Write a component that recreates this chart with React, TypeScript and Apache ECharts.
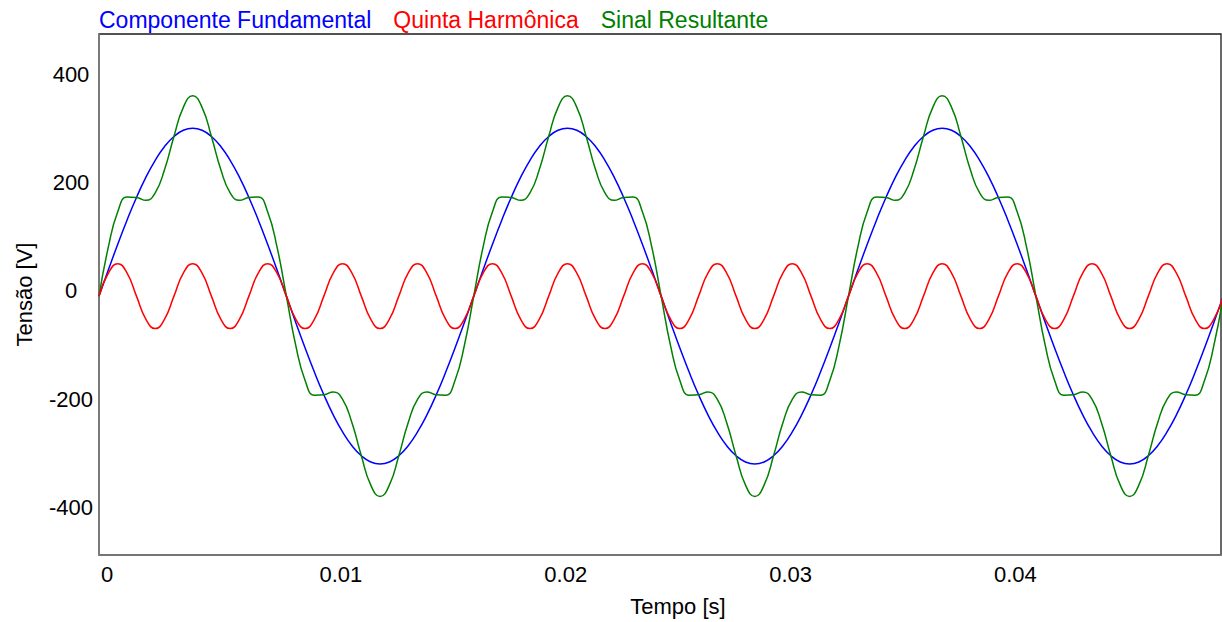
import React, { useEffect, useRef } from "react";
import * as echarts from "echarts";

// Sampling step of the recorded signal (s)
const SAMPLE_STEP = 1 / 2400;

// Legend / series names
const NAMES = ["Componente Fundamental", "Quinta Harmônica", "Sinal Resultante"];
const COLORS = ["#0000ff", "#ff0000", "#008000"];

// Componente Fundamental [V], one value per sample
const fundamental = [
  -10, 38.5, 85.8, 130.7, 172.2, 209.2, 240.8, 266.2, 284.8, 296.2,
  300, 296.2, 284.8, 266.2, 240.8, 209.2, 172.2, 130.7, 85.8, 38.5,
  -10, -58.5, -105.8, -150.7, -192.2, -229.2, -260.8, -286.2, -304.8, -316.2,
  -320, -316.2, -304.8, -286.2, -260.8, -229.2, -192.2, -150.7, -105.8, -58.5,
  -10, 38.5, 85.8, 130.7, 172.2, 209.2, 240.8, 266.2, 284.8, 296.2,
  300, 296.2, 284.8, 266.2, 240.8, 209.2, 172.2, 130.7, 85.8, 38.5,
  -10, -58.5, -105.8, -150.7, -192.2, -229.2, -260.8, -286.2, -304.8, -316.2,
  -320, -316.2, -304.8, -286.2, -260.8, -229.2, -192.2, -150.7, -105.8, -58.5,
  -10, 38.5, 85.8, 130.7, 172.2, 209.2, 240.8, 266.2, 284.8, 296.2,
  300, 296.2, 284.8, 266.2, 240.8, 209.2, 172.2, 130.7, 85.8, 38.5,
  -10, -58.5, -105.8, -150.7, -192.2, -229.2, -260.8, -286.2, -304.8, -316.2,
  -320, -316.2, -304.8, -286.2, -260.8, -229.2, -192.2, -150.7, -105.8, -58.5,
  -10,
];

// Quinta Harmônica [V]
const harmonic = [
  -10, 32.4, 50, 32.4, -10, -52.4, -70, -52.4,
  -10, 32.4, 50, 32.4, -10, -52.4, -70, -52.4,
  -10, 32.4, 50, 32.4, -10, -52.4, -70, -52.4,
  -10, 32.4, 50, 32.4, -10, -52.4, -70, -52.4,
  -10, 32.4, 50, 32.4, -10, -52.4, -70, -52.4,
  -10, 32.4, 50, 32.4, -10, -52.4, -70, -52.4,
  -10, 32.4, 50, 32.4, -10, -52.4, -70, -52.4,
  -10, 32.4, 50, 32.4, -10, -52.4, -70, -52.4,
  -10, 32.4, 50, 32.4, -10, -52.4, -70, -52.4,
  -10, 32.4, 50, 32.4, -10, -52.4, -70, -52.4,
  -10, 32.4, 50, 32.4, -10, -52.4, -70, -52.4,
  -10, 32.4, 50, 32.4, -10, -52.4, -70, -52.4,
  -10, 32.4, 50, 32.4, -10, -52.4, -70, -52.4,
  -10, 32.4, 50, 32.4, -10, -52.4, -70, -52.4,
  -10, 32.4, 50, 32.4, -10, -52.4, -70, -52.4,
  -10,
];

// Sinal Resultante [V]
const resultant = [
  -10, 80.9, 145.8, 173.1, 172.2, 166.8, 180.8, 223.8, 284.8, 338.6,
  360, 338.6, 284.8, 223.8, 180.8, 166.8, 172.2, 173.1, 145.8, 80.9,
  -10, -100.9, -165.8, -193.1, -192.2, -186.8, -200.8, -243.8, -304.8, -358.6,
  -380, -358.6, -304.8, -243.8, -200.8, -186.8, -192.2, -193.1, -165.8, -100.9,
  -10, 80.9, 145.8, 173.1, 172.2, 166.8, 180.8, 223.8, 284.8, 338.6,
  360, 338.6, 284.8, 223.8, 180.8, 166.8, 172.2, 173.1, 145.8, 80.9,
  -10, -100.9, -165.8, -193.1, -192.2, -186.8, -200.8, -243.8, -304.8, -358.6,
  -380, -358.6, -304.8, -243.8, -200.8, -186.8, -192.2, -193.1, -165.8, -100.9,
  -10, 80.9, 145.8, 173.1, 172.2, 166.8, 180.8, 223.8, 284.8, 338.6,
  360, 338.6, 284.8, 223.8, 180.8, 166.8, 172.2, 173.1, 145.8, 80.9,
  -10, -100.9, -165.8, -193.1, -192.2, -186.8, -200.8, -243.8, -304.8, -358.6,
  -380, -358.6, -304.8, -243.8, -200.8, -186.8, -192.2, -193.1, -165.8, -100.9,
  -10,
];

const X_MIN = 0;
const X_MAX = 0.0499;
const X_INTERVAL = 0.01;
const Y_MIN = -488;
const Y_MAX = 474;

const FONT = "'Liberation Sans', Arial, sans-serif";

const toPairs = (vals: number[]) => vals.map((v, i) => [i * SAMPLE_STEP, v]);

export default function App() {
  const ref = useRef<HTMLDivElement>(null);

  useEffect(() => {
    if (!ref.current) return;
    const chart = echarts.init(ref.current, undefined, { renderer: "svg" });
    const seriesData = [fundamental, harmonic, resultant];
    const order = [0, 2, 1];
    chart.setOption({
      animation: false,
      backgroundColor: "#ffffff",
      textStyle: { fontFamily: FONT },
      legend: {
        left: 89,
        top: 3,
        icon: "none",
        itemWidth: 0,
        itemHeight: 14,
        itemGap: 17,
        selectedMode: false,
        data: NAMES.map((n, i) => ({
          name: n,
          textStyle: { color: COLORS[i], fontSize: 23, fontFamily: FONT },
        })),
      },
      grid: {
        left: 99,
        right: 1,
        top: 34,
        bottom: 66,
        show: true,
        borderColor: "#1a1a1a",
        borderWidth: 1.3,
        backgroundColor: "transparent",
      },
      xAxis: {
        type: "value",
        min: X_MIN,
        max: X_MAX,
        interval: X_INTERVAL,
        name: "Tempo [s]",
        nameLocation: "middle",
        nameGap: 40,
        nameTextStyle: {
          fontSize: 22,
          color: "#000",
          fontFamily: FONT,
          padding: [0, 0, 0, 36],
        },
        axisLine: { show: true, onZero: false, lineStyle: { color: "#808080", width: 1.5 } },
        axisTick: { show: false },
        splitLine: { show: false },
        axisLabel: {
          showMaxLabel: false,
          margin: 8,
          color: "#000",
          fontSize: 22,
          fontFamily: FONT,
          formatter: (v: number) => {
            const s = String(Number(v.toFixed(4)));
            return v === 0 ? `{z|${s}}` : `{n|${s}}`;
          },
          rich: {
            z: { fontSize: 22, fontFamily: FONT, color: "#000", padding: [0, 0, 0, 16] },
            n: { fontSize: 22, fontFamily: FONT, color: "#000", padding: [0, 0, 0, 34] },
          },
        },
      },
      yAxis: {
        type: "value",
        min: Y_MIN,
        max: Y_MAX,
        splitNumber: 5,
        minInterval: 200,
        maxInterval: 200,
        name: "Tensão [V]",
        nameLocation: "middle",
        nameGap: 64,
        nameTextStyle: { fontSize: 22, color: "#000", fontFamily: FONT },
        axisLine: { show: true, onZero: false, lineStyle: { color: "#808080", width: 1.5 } },
        axisTick: { show: false },
        splitLine: { show: false },
        axisLabel: {
          showMinLabel: false,
          showMaxLabel: false,
          align: "center",
          margin: 28,
          color: "#000",
          fontSize: 22,
          fontFamily: FONT,
        },
      },
      series: order.map((i) => ({
        name: NAMES[i],
        type: "line",
        data: toPairs(seriesData[i]),
        smooth: true,
        showSymbol: false,
        clip: true,
        lineStyle: { color: COLORS[i], width: 1.5 },
        itemStyle: { color: COLORS[i] },
      })),
    });
    return () => chart.dispose();
  }, []);

  return (
    <div
      ref={ref}
      style={{ position: "fixed", left: 0, top: 0, width: 1222, height: 622, background: "#fff" }}
    />
  );
}
